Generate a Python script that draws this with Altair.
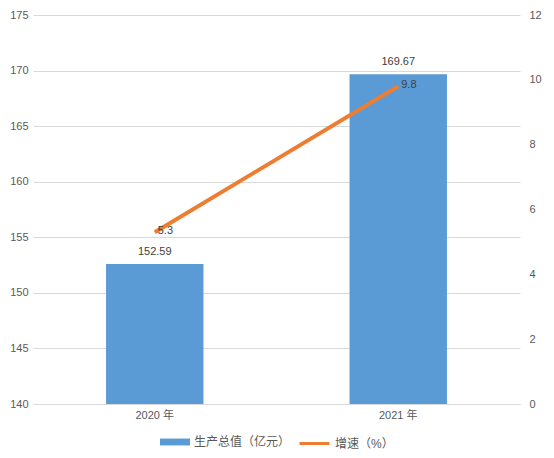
import altair as alt
import pandas as pd

years = ["2020 年", "2021 年"]
output_values = [152.59, 169.67]
growth_values = [5.3, 9.8]
bar_series = "生产总值（亿元）"
line_series = "增速（%）"

df = pd.DataFrame({
    "year": years,
    "output": output_values,
    "growth": growth_values,
    "s1": [bar_series] * len(years),
    "s2": [line_series] * len(years),
})

FONT = "Liberation Sans, Noto Sans CJK SC, sans-serif"
GRAY = "#595959"
BLUE = "#5B9BD5"
ORANGE = "#ED7D31"

x_enc = alt.X("year:N", sort=years, title=None,
              scale=alt.Scale(paddingInner=0.6, paddingOuter=0.3),
              axis=alt.Axis(labelAngle=0, ticks=False, domainColor="#d9d9d9",
                            labelPadding=5, labelFont=FONT, labelFontSize=11,
                            labelColor=GRAY))

left_scale = alt.Scale(domain=[140, 175], zero=False, nice=False)
right_scale = alt.Scale(domain=[0, 12], nice=False)

base = alt.Chart(df)

bars = base.mark_bar(color=BLUE).encode(
    x=x_enc,
    y=alt.Y("output:Q", scale=left_scale, title=None,
            axis=alt.Axis(values=[140, 145, 150, 155, 160, 165, 170, 175],
                          grid=True, gridColor="#d9d9d9", ticks=False,
                          domain=False, labelPadding=5, labelFont=FONT,
                          labelFontSize=11, labelColor=GRAY)),
    y2=alt.datum(140),
    fill=alt.Fill("s1:N", scale=alt.Scale(domain=[bar_series], range=[BLUE]),
                  legend=alt.Legend(title=None, orient="none", legendX=127,
                                    legendY=412,
                                    symbolType="M-1,-0.23H1V0.23H-1Z",
                                    symbolSize=900, symbolStrokeWidth=0,
                                    labelFont=FONT, labelFontSize=12,
                                    labelColor=GRAY, labelOffset=4)),
)

bar_text = base.mark_text(dy=-12, font=FONT, fontSize=11, color="#404040").encode(
    x=alt.X("year:N", sort=years),
    y=alt.Y("output:Q", scale=left_scale),
    text=alt.Text("output:Q", format=".2f"),
)

line = base.mark_line(strokeWidth=4).encode(
    x=alt.X("year:N", sort=years),
    y=alt.Y("growth:Q", scale=right_scale, title=None,
            axis=alt.Axis(orient="right", values=[0, 2, 4, 6, 8, 10, 12],
                          grid=False, ticks=False, domain=False,
                          labelPadding=9, labelFont=FONT, labelFontSize=11,
                          labelColor=GRAY)),
    stroke=alt.Stroke("s2:N", scale=alt.Scale(domain=[line_series], range=[ORANGE]),
                      legend=alt.Legend(title=None, orient="none", legendX=265,
                                        legendY=412, symbolType="stroke",
                                        symbolSize=900, symbolStrokeWidth=3,
                                        labelFont=FONT, labelFontSize=12,
                                        labelColor=GRAY, labelOffset=4)),
)

line_text = base.mark_text(align="left", dx=3, dy=-1, font=FONT, fontSize=11,
                           color="#404040").encode(
    x=alt.X("year:N", sort=years),
    y=alt.Y("growth:Q", scale=right_scale),
    text=alt.Text("growth:Q", format=".1f"),
)

chart = alt.layer(
    alt.layer(bars, bar_text),
    alt.layer(line, line_text),
).resolve_scale(y="independent", fill="independent", stroke="independent").properties(
    width=487, height=389,
    autosize=alt.AutoSizeParams(type="none"),
    padding={"left": 25, "top": 7, "right": 26, "bottom": 46},
).configure_view(stroke=None)

chart.save("out.html", embed_options={"renderer": "svg", "actions": False})
